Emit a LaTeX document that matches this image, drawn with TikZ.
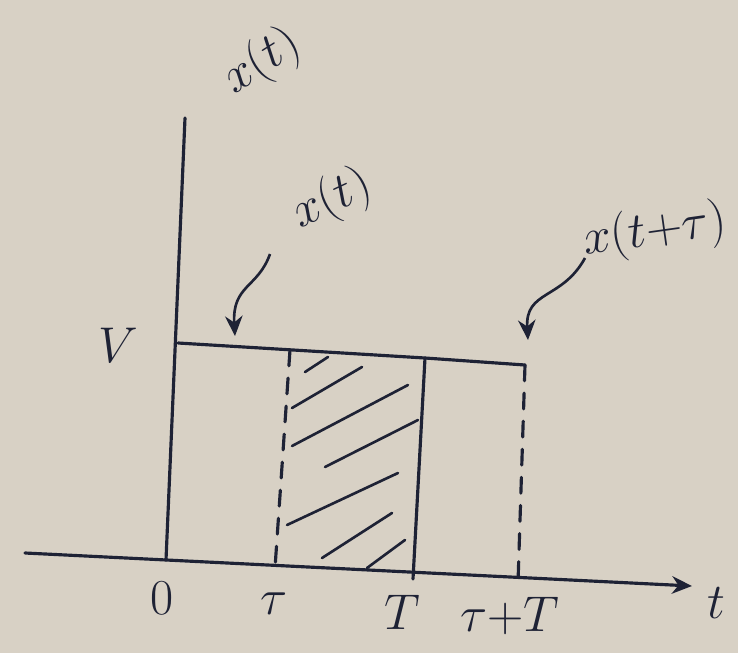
\documentclass[tikz,border=0pt]{standalone}
\usepackage{amsmath}
\usepackage{xcolor}
\usepackage{tikz}
\usetikzlibrary{arrows.meta,calc}
\definecolor{cPaper}{HTML}{D8D1C5}
\definecolor{cInk}  {HTML}{1E2235}
\tikzset{
  >={Stealth[length=4mm,width=3.5mm]},
  ink/.style={draw=cInk,line width=1.8pt,line cap=round},
  dashln/.style={ink,dash pattern=on 9pt off 7pt},
  hatch/.style={draw=cInk,line width=1.5pt,line cap=round},
  lbl/.style={text=cInk,font=\Huge,scale=1.15,inner sep=1pt},
  note/.style={->,draw=cInk,line width=1.5pt},
}

\begin{document}
\begin{tikzpicture}[x=0.02cm,y=-0.02cm]
    \fill[cPaper] (0,0) rectangle (738,653);
    \useasboundingbox (0,0) rectangle (738,653);
    % axes
    \coordinate (ytop) at (185,118);
    \coordinate (o) at (166,560);
    \coordinate (xl) at (25,553);
    \coordinate (xr) at (692,586);
    \draw[ink] (o)--(ytop);
    \draw[ink,->] (xl)--(xr);
    % pulse and shifted pulse
    \coordinate (v0) at (178,343);
    \coordinate (ta) at (290,350);
    \coordinate (tb) at (275,568);
    \coordinate (Ta) at (425,358);
    \coordinate (Tb) at (413,579);
    \coordinate (ua) at (525,365);
    \coordinate (ub) at (518,583);
    \draw[ink] (v0)--(Ta)--(ua);
    \draw[ink] (Ta)--(Tb);
    \draw[dashln] (ta)--(tb);
    \draw[dashln] (ua)--(ub);
    % hatching of the overlap
    \foreach \xa/\ya/\xb/\yb in {305/372/328/357, 292/408/362/367, 292/446/408/385,
                       325/467/418/420, 287/525/398/473, 322/558/392/513,
                       367/568/405/540}{
      \draw[hatch] (\xa,\ya) -- (\xb,\yb);
    }
    % labels
    \node[lbl,rotate=32] (ylab) at (262,62) {$x(t)$};
    \node[lbl] (vlab) at (118,345) {$V$};
    \node[lbl] (zero) at (162,598) {$0$};
    \node[lbl] (tau) at (274,604) {$\tau$};
    \node[lbl] (tT) at (402,612) {$T$};
    \node[lbl] (tauT) at (510,616) {$\tau{+}T$};
    \node[lbl] (tlab) at (716,603) {$t$};
    \node[lbl,rotate=25] (xt) at (332,200) {$x(t)$};
    \node[lbl,rotate=8] (xtau) at (655,232) {$x(t{+}\tau)$};
    % pointers
    \coordinate (xts) at (270,254);
    \coordinate (xtp) at (235,336);
    \coordinate (xtaus) at (585,258);
    \coordinate (xtaup) at (528,340);
    \draw[note] (xts) .. controls (258,288) and (232,285) .. (xtp);
    \draw[note] (xtaus) .. controls (562,300) and (525,290) .. (xtaup);
  \end{tikzpicture}
\end{document}
